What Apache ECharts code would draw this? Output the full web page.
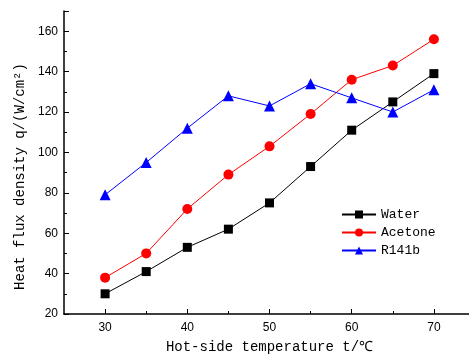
<!DOCTYPE html>
<html><head><meta charset="utf-8">
<script src="https://cdn.jsdelivr.net/npm/echarts@6/dist/echarts.min.js"></script>
<style>html,body{margin:0;padding:0;background:#fff}#c{width:469px;height:354px}</style>
</head><body><div id="c"></div>
<script>
const temps = [30, 35, 40, 45, 50, 55, 60, 65, 70];
const water = [30, 41, 53, 62, 75, 93, 111, 125, 139];
const acetone = [38, 50, 72, 89, 103, 119, 136, 143, 156];
const r141b = [79, 95, 112, 128, 123, 134, 127, 120, 131];
const seriesNames = ['Water', 'Acetone', 'R141b'];
const xMajorTicks = [30, 40, 50, 60, 70];
const xMinorTicks = [35, 45, 55, 65];
const xTitle = 'Hot-side temperature t/℃';
const yTitle = 'Heat flux density q/(W/cm²)';

const pair = arr => temps.map((t, i) => [t, arr[i]]);
const chart = echarts.init(document.getElementById('c'), null, {renderer: 'canvas'});
const mono = 'Liberation Mono';
const lbl = {color: '#000', fontFamily: 'Liberation Sans', fontSize: 12};
chart.setOption({
  animation: false,
  backgroundColor: '#fff',
  grid: {left: 64, top: 11, right: -6, bottom: 40, containLabel: false, outerBoundsMode: 'none'},
  xAxis: [{
    type: 'value', min: 25, max: 75, interval: 5,
    name: xTitle, nameLocation: 'middle', nameGap: 26,
    nameTextStyle: {color: '#000', fontFamily: mono, fontSize: 14},
    axisLine: {show: true, lineStyle: {color: '#000', width: 1.5}},
    axisTick: {show: true, inside: true, length: 5, customValues: xMajorTicks, lineStyle: {color: '#000', width: 1}},
    axisLabel: Object.assign({}, lbl, {margin: 8, customValues: xMajorTicks}),
    splitLine: {show: false}
  }, {
    type: 'value', min: 25, max: 75, interval: 5, position: 'bottom',
    axisLine: {show: false},
    axisTick: {show: true, inside: true, length: 3, customValues: xMinorTicks, lineStyle: {color: '#000', width: 1}},
    axisLabel: {show: false},
    splitLine: {show: false}
  }],
  yAxis: {
    type: 'value', min: 20, max: 170, interval: 20,
    name: yTitle, nameLocation: 'middle', nameGap: 36, nameRotate: 90,
    nameTextStyle: {color: '#000', fontFamily: mono, fontSize: 14, padding: [0, 28, 0, 0]},
    axisLine: {show: true, lineStyle: {color: '#000', width: 1.5}},
    axisTick: {show: true, inside: true, length: 5, lineStyle: {color: '#000', width: 1}},
    minorTick: {show: true, splitNumber: 2, length: 3, lineStyle: {color: '#000', width: 1}},
    axisLabel: Object.assign({}, lbl, {showMaxLabel: false, margin: 6}),
    splitLine: {show: false}
  },
  legend: {
    left: 336, top: 203, orient: 'vertical', itemGap: 5,
    itemWidth: 34, itemHeight: 10,
    textStyle: {color: '#000', fontFamily: mono, fontSize: 13},
    data: seriesNames
  },
  series: [
    {name: seriesNames[0], type: 'line', data: pair(water), symbol: 'rect', symbolSize: 9,
     itemStyle: {color: '#000'}, lineStyle: {color: '#000', width: 1}},
    {name: seriesNames[1], type: 'line', data: pair(acetone), symbol: 'circle', symbolSize: 10,
     itemStyle: {color: '#ff0000'}, lineStyle: {color: '#ff0000', width: 1}},
    {name: seriesNames[2], type: 'line', data: pair(r141b), symbol: 'triangle', symbolSize: 11,
     itemStyle: {color: '#0000ff'}, lineStyle: {color: '#0000ff', width: 1}}
  ]
});
</script></body></html>
